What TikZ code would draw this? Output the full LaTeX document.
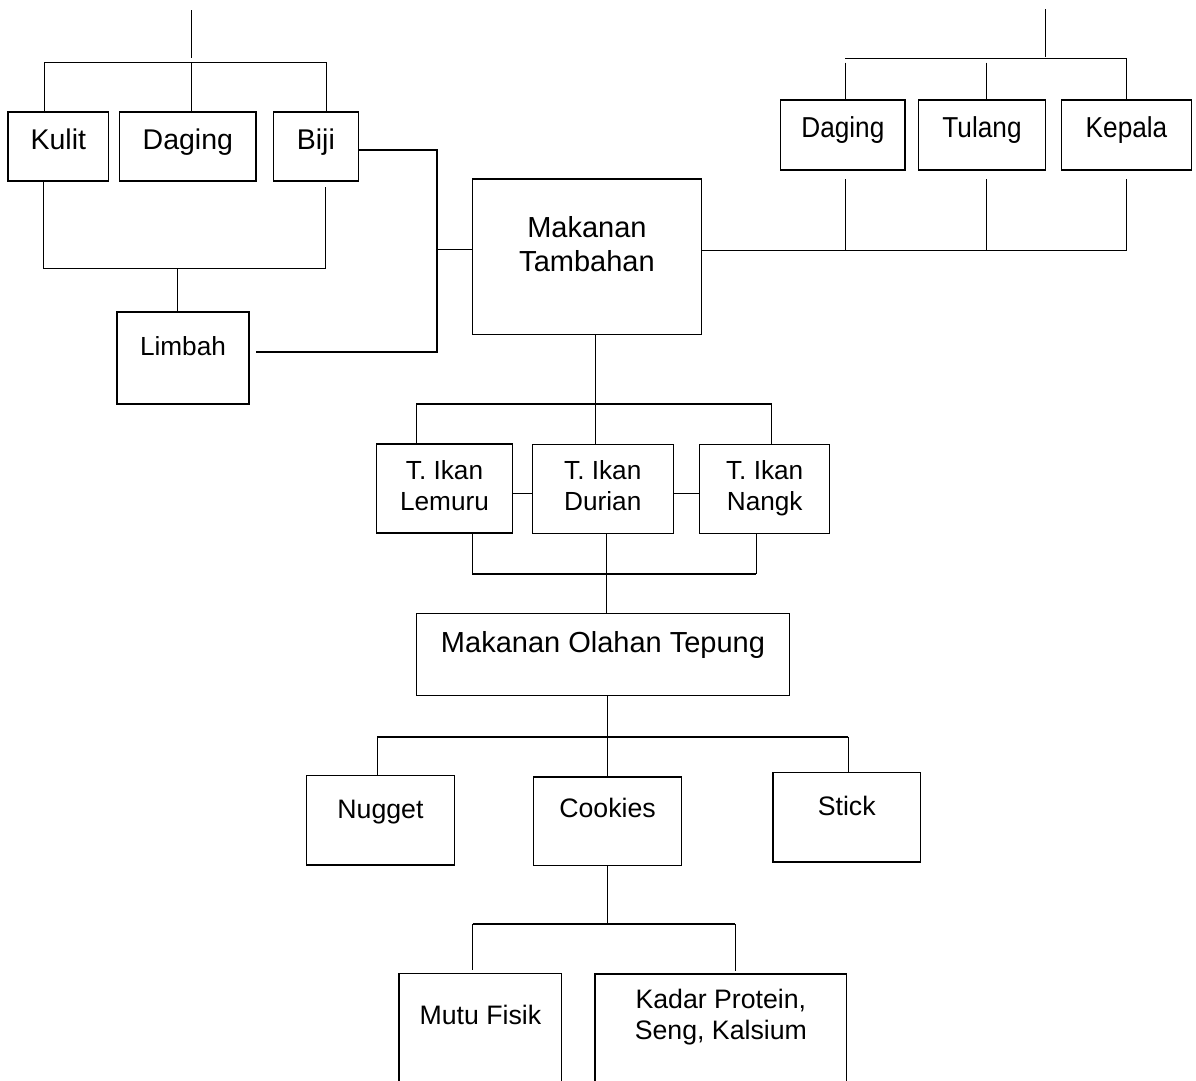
\documentclass[tikz,border=0pt]{standalone}
\usepackage{fontspec}
\setmainfont{Liberation Sans}
\frenchspacing

% a ruled box whose top-left corner sits at (x1,y1); the text baseline is put at y = base
% #1 name, #2 x1, #3 y1, #4 x2, #5 y2, #6 base, #7 style, #8 text
\newcommand\tbox[8]{%
  \pgfmathsetmacro\tbW{#4-#2}%
  \pgfmathsetmacro\tbH{#6-#3}%
  \pgfmathsetmacro\tbD{#5-#6}%
  \node[box,#7,minimum width=\tbW pt,text height=\tbH pt,text depth=\tbD pt] (#1) at (#2,#3) {#8};}
\newcommand\twoline[1]{\begin{tabular}[t]{@{}c@{}}#1\end{tabular}}
\newcommand\tall[1]{\scalebox{1}[1.1]{#1}}

\tikzset{
  box/.style={draw, line width=1.3pt, anchor=north west, inner sep=0pt, outer sep=0pt},
  wire/.style={line width=1pt},
  mid/.style={line width=1.4pt},
  heavy/.style={line width=2pt},
  fbig/.style={font=\fontsize{28.5}{34}\selectfont},
  fhead/.style={font=\fontsize{29}{34}\selectfont},
  fmid/.style={font=\fontsize{26.2}{31}\selectfont},
  fsub/.style={font=\fontsize{26.7}{31}\selectfont},
}

\begin{document}
\begin{tikzpicture}[x=1pt,y=-1pt]
\useasboundingbox (0,0) rectangle (1196,1080);
\fill[white] (0,0) rectangle (1196,1080);
\clip (0,0) rectangle (1196,1080);

% ---- boxes ----
\tbox{kulit}{8}{112}{108.7}{181}{149}{fbig}{Kulit}
\tbox{dagL}{119.7}{112}{256}{181}{149}{fbig}{Daging}
\tbox{biji}{273.3}{112}{358.5}{181}{149}{fbig}{Biji}
\tbox{limbah}{117}{312}{249}{404}{355}{fmid}{Limbah}
\tbox{mt}{472.6}{179}{701.3}{334.7}{237.7}{fhead}{\twoline{Makanan\\Tambahan}}
\tbox{dagR}{780.7}{100}{905}{170}{137}{fmid}{\tall{Daging}}
\tbox{tulang}{918.7}{100}{1045.3}{170}{137}{fmid}{\tall{Tulang}}
\tbox{kepala}{1061.7}{100}{1191.3}{170}{137}{fmid}{\tall{Kepala}}
\tbox{lemuru}{376.3}{444}{512.7}{533}{479}{fmid}{\twoline{T. Ikan\\Lemuru}}
\tbox{durian}{532.3}{444.7}{673.3}{533.7}{479}{fmid}{\twoline{T. Ikan\\Durian}}
\tbox{nangk}{699.7}{444.7}{829.7}{533.7}{479}{fmid}{\twoline{T. Ikan\\Nangk}}
\tbox{mot}{416.7}{613.7}{789.3}{695.7}{652.7}{fhead}{Makanan Olahan Tepung}
\tbox{nugget}{306.4}{775.7}{454.5}{865}{818.3}{fsub}{Nugget}
\tbox{cookies}{533.3}{777}{681.8}{865.7}{817.7}{fsub}{Cookies}
\tbox{stick}{773}{772.7}{920.5}{862}{815}{fsub}{Stick}
\tbox{mutu}{399}{973.3}{561.7}{1100}{1024}{fsub}{Mutu Fisik}
\tbox{kadar}{595}{974}{846.7}{1100}{1008.5}{fsub}{\twoline{Kadar Protein,\\Seng, Kalsium}}

% ---- upper left group ----
\coordinate (topL) at (191.7,10);
\coordinate (topLend) at (191.7,58);
\coordinate (jL) at (191.7,62);
\coordinate (bL1) at (44,62);
\coordinate (bL2) at (326,62);
\draw[wire] (topL) -- (topLend);
\draw[wire] (bL1 |- kulit.north) -- (bL1) -- (bL2) -- (bL2 |- biji.north);
\draw[wire] (jL) -- (jL |- dagL.north);

\coordinate (cL1) at (43.7,268.3);
\coordinate (cL2) at (325,268.3);
\coordinate (jLim) at (177.7,268.3);
\draw[wire] (cL1 |- kulit.south) -- (cL1) -- (cL2) -- ([yshift=-5.7pt]cL2 |- biji.south);
\draw[wire] (jLim) -- (jLim |- limbah.north);

\coordinate (kA) at (436.5,150);
\coordinate (kB) at (436.5,352);
\coordinate (kM) at (436.5,249.3);
\draw[heavy] (biji.east |- kA) -- (kA) -- (kB) -- ([xshift=7pt]limbah.east |- kB);
\draw[wire] (kM) -- (kM -| mt.west);

% ---- upper right group ----
\coordinate (topR) at (1045.3,9.3);
\coordinate (topRend) at (1045.3,57.3);
\coordinate (bR1) at (845.3,58.3);
\coordinate (bR2) at (1126.7,58.3);
\coordinate (bRm) at (986,62.7);
\draw[wire] (topR) -- (topRend);
\draw[wire] (bR1) -- (bR2) -- (bR2 |- kepala.north);
\draw[wire] ([yshift=-4.4pt]bR1) -- (bR1 |- dagR.north);
\draw[wire] (bRm) -- (bRm |- tulang.north);

\coordinate (cR1) at (845.3,250);
\coordinate (cRm) at (986,250);
\coordinate (cR2) at (1126.7,250);
\draw[wire] (mt.east |- cR1) -- (cR2) -- ([yshift=-9.3pt]cR2 |- kepala.south);
\draw[wire] (cR1) -- ([yshift=-9.3pt]cR1 |- dagR.south);
\draw[wire] (cRm) -- ([yshift=-9.3pt]cRm |- tulang.south);

% ---- flour products ----
\coordinate (jM) at (595.5,404);
\coordinate (bM1) at (416.7,404);
\coordinate (bM2) at (771.3,404);
\draw[wire] (jM |- mt.south) -- (jM |- durian.north);
\draw[mid] (bM1 |- lemuru.north) -- (bM1) -- (bM2) -- (bM2 |- nangk.north);

\coordinate (sM) at (600,493.7);
\draw[wire] (lemuru.east |- sM) -- (durian.west |- sM);
\draw[wire] (durian.east |- sM) -- (nangk.west |- sM);

\coordinate (cM1) at (472.3,573.7);
\coordinate (cM2) at (756,573.7);
\coordinate (cMm) at (606.5,573.7);
\draw[wire] (cM1 |- lemuru.south) -- (cM1);
\draw[wire] (cM2 |- nangk.south) -- (cM2);
\draw[heavy] (cM1) -- (cM2);
\draw[wire] (cMm |- durian.south) -- (cMm |- mot.north);

% ---- processed foods ----
\coordinate (jO) at (607,736.7);
\coordinate (bO1) at (377,736.7);
\coordinate (bO2) at (848,736.7);
\draw[wire] (jO |- mot.south) -- (jO |- cookies.north);
\draw[wire] (bO1) -- (bO1 |- nugget.north);
\draw[wire] (bO2) -- (bO2 |- stick.north);
\draw[heavy] (bO1) -- (bO2);

% ---- analyses of the cookies ----
\coordinate (jC) at (607.5,924.3);
\coordinate (bC1) at (472.7,924.3);
\coordinate (bC2) at (735.3,924.3);
\draw[wire] (jC |- cookies.south) -- (jC);
\draw[wire] (bC1) -- ([yshift=3pt]bC1 |- mutu.north);
\draw[wire] (bC2) -- ([yshift=3pt]bC2 |- kadar.north);
\draw[heavy] (bC1) -- (bC2);
\end{tikzpicture}
\end{document}
